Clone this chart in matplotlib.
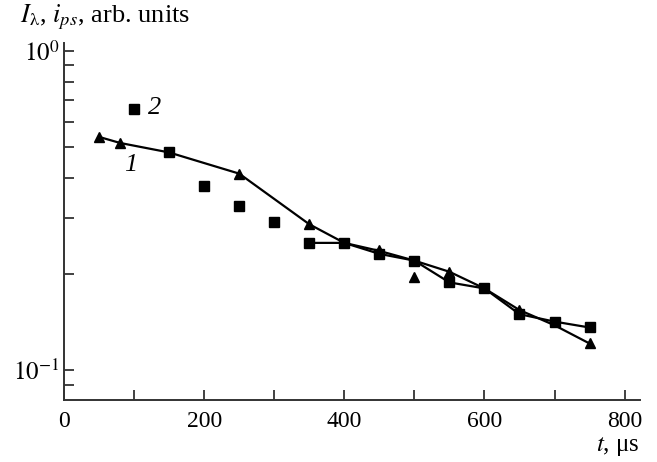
import matplotlib
matplotlib.use("Agg")
import matplotlib.pyplot as plt
from matplotlib.ticker import LogLocator, FixedLocator, NullFormatter, MultipleLocator

plt.rcParams['font.family'] = ['Liberation Serif', 'DejaVu Serif']
plt.rcParams['mathtext.fontset'] = 'stix'

# Series 1 (triangles): line vertices and visible markers
t_line1 = [50, 80, 150, 250, 350, 400, 450, 500, 550, 600, 650, 700, 750]
I_line1 = [0.537, 0.514, 0.480, 0.412, 0.286, 0.250, 0.236, 0.220, 0.203, 0.180, 0.154, 0.138, 0.121]
t_tri = [50, 80, 250, 350, 450, 500, 550, 650, 750]
I_tri = [0.537, 0.514, 0.412, 0.286, 0.238, 0.196, 0.203, 0.154, 0.121]

# Series 2 (squares)
t_sq = [100, 150, 200, 250, 300, 350, 400, 450, 500, 550, 600, 650, 700, 750]
I_sq = [0.659, 0.480, 0.378, 0.327, 0.291, 0.250, 0.250, 0.231, 0.220, 0.188, 0.180, 0.1495, 0.1417, 0.1358]
sq_line_start = 5  # squares connected from t=350 onward

fig = plt.figure(figsize=(6.57, 4.62), dpi=100)
ax = fig.add_axes([64/657, 1-400/462, (640-64)/657, (400-43)/462])

ax.plot(t_line1, I_line1, color='black', lw=1.6, zorder=2)
ax.plot(t_sq[sq_line_start:], I_sq[sq_line_start:], color='black', lw=1.6, zorder=2)
ax.plot(t_tri, I_tri, linestyle='none', marker='^', color='black', markersize=7.5, zorder=3)
ax.plot(t_sq, I_sq, linestyle='none', marker='s', color='black', markersize=7.5, zorder=4)

ax.set_yscale('log')
ax.set_xlim(0, 822)
ax.set_ylim(0.0805, 1.057)

ax.xaxis.set_major_locator(MultipleLocator(200))
ax.xaxis.set_minor_locator(MultipleLocator(100))
ax.yaxis.set_major_locator(FixedLocator([0.1, 1.0]))
ax.yaxis.set_minor_locator(LogLocator(base=10, subs=range(2, 10)))
ax.yaxis.set_minor_formatter(NullFormatter())
ax.set_yticklabels([r'$10^{-1}$', r'$10^{0}$'])

for s in ['top', 'right']:
    ax.spines[s].set_visible(False)
for s in ['left', 'bottom']:
    ax.spines[s].set_linewidth(1.4)
    ax.spines[s].set_color('#333333')

ax.tick_params(which='both', direction='in', color='#333333', width=1.3)
ax.tick_params(axis='x', which='both', length=7, pad=8, labelsize=17)
ax.tick_params(axis='y', which='both', length=7, pad=3, labelsize=18)

ax.text(120, 0.66, '2', fontsize=19, style='italic', ha='left', va='center')
ax.text(95, 0.44, '1', fontsize=19, style='italic', ha='center', va='center')

fig.text(20/657, 1-22/462, r'$I_{\mathrm{\lambda}}$, $i_{ps}$, arb. units', fontsize=19, ha='left', va='baseline')
fig.text(640/657, 1-451/462, r'$t$, μs', fontsize=18, ha='right', va='baseline')

fig.savefig('out.png', dpi=100)
